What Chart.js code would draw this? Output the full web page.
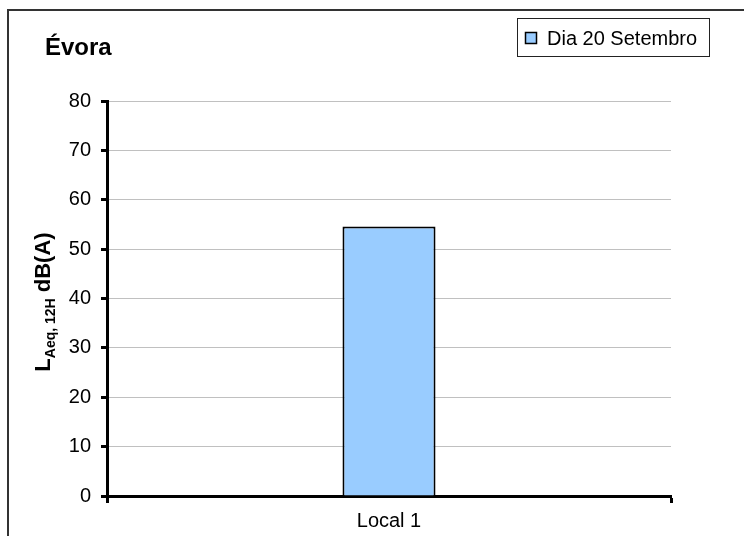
<!DOCTYPE html>
<html>
<head>
<meta charset="utf-8">
<script src="https://cdn.jsdelivr.net/npm/chart.js@4.4.0/dist/chart.umd.min.js"></script>
<style>
  html, body { margin: 0; padding: 0; background: #fff; }
</style>
</head>
<body>
<canvas id="chart" width="744" height="536"></canvas>
<script>
// Data
const categories = ['Local 1'];
const seriesName = 'Dia 20 Setembro';
const values = [54.6];
const yTicks = [0, 10, 20, 30, 40, 50, 60, 70, 80];
const chartTitle = 'Évora';
const axisTitle = ['L', 'Aeq, 12H', ' dB(A)'];

const FONT = '"Liberation Sans", Arial, sans-serif';
const barColor = '#99CCFF';

// Frame, title, legend and y-axis title with subscript
const decorations = {
    id: 'decorations',
    afterDraw(chart) {
        const ctx = chart.ctx;
        ctx.save();

        // outer frame
        ctx.strokeStyle = '#333';
        ctx.lineWidth = 2;
        ctx.strokeRect(8, 10, 800, 600);

        // title
        ctx.fillStyle = '#000';
        ctx.textAlign = 'left';
        ctx.textBaseline = 'alphabetic';
        ctx.font = 'bold 24px ' + FONT;
        ctx.fillText(chartTitle, 45, 55);

        // legend
        ctx.strokeStyle = '#222';
        ctx.lineWidth = 1;
        ctx.fillStyle = '#fff';
        ctx.fillRect(517.5, 18.5, 192, 38);
        ctx.strokeRect(517.5, 18.5, 192, 38);
        ctx.fillStyle = barColor;
        ctx.fillRect(525.5, 32.5, 11, 11);
        ctx.lineWidth = 1.5;
        ctx.strokeStyle = '#000';
        ctx.strokeRect(525.5, 32.5, 11, 11);
        ctx.fillStyle = '#000';
        ctx.font = '20px ' + FONT;
        ctx.fillText(chart.data.datasets[0].label, 547, 45);

        // y axis title
        ctx.translate(50, 302);
        ctx.rotate(-Math.PI / 2);
        const big = 'bold 22px ' + FONT;
        const small = 'bold 14px ' + FONT;
        ctx.font = big;
        const w1 = ctx.measureText(axisTitle[0]).width;
        const w3 = ctx.measureText(axisTitle[2]).width;
        ctx.font = small;
        const w2 = ctx.measureText(axisTitle[1]).width;
        let x = -(w1 + w2 + w3) / 2;
        ctx.font = big;
        ctx.fillText(axisTitle[0], x, 0);
        x += w1;
        ctx.font = small;
        ctx.fillText(axisTitle[1], x, 5);
        x += w2;
        ctx.font = big;
        ctx.fillText(axisTitle[2], x, 0);

        ctx.restore();
    }
};

const ctx = document.getElementById('chart').getContext('2d');
const chart = new Chart(ctx, {
    type: 'bar',
    data: {
        labels: categories,
        datasets: [{
            label: seriesName,
            data: values,
            backgroundColor: barColor,
            borderColor: '#000',
            borderWidth: 2,
            categoryPercentage: 1,
            barPercentage: 0.165
        }]
    },
    options: {
        responsive: false,
        animation: false,
        layout: {
            padding: { left: 0, right: 73, top: 101, bottom: 0 }
        },
        plugins: {
            legend: { display: false },
            title: { display: false },
            tooltip: { enabled: false }
        },
        scales: {
            y: {
                min: yTicks[0],
                max: yTicks[yTicks.length - 1],
                afterFit: function(scale) { scale.width = 107; },
                ticks: {
                    stepSize: yTicks[1] - yTicks[0],
                    color: '#000',
                    padding: 10,
                    font: { family: FONT, size: 20 }
                },
                grid: {
                    color: '#c0c0c0',
                    lineWidth: 1,
                    tickColor: '#000',
                    tickWidth: 3,
                    tickLength: 6
                },
                border: { color: '#000', width: 3 }
            },
            x: {
                afterFit: function(scale) { scale.height = 40; },
                ticks: {
                    color: '#000',
                    padding: 6,
                    font: { family: FONT, size: 20 }
                },
                grid: {
                    drawOnChartArea: false,
                    tickColor: '#000',
                    tickWidth: 3,
                    tickLength: 7
                },
                border: { color: '#000', width: 3 }
            }
        }
    },
    plugins: [decorations]
});
</script>
</body>
</html>
